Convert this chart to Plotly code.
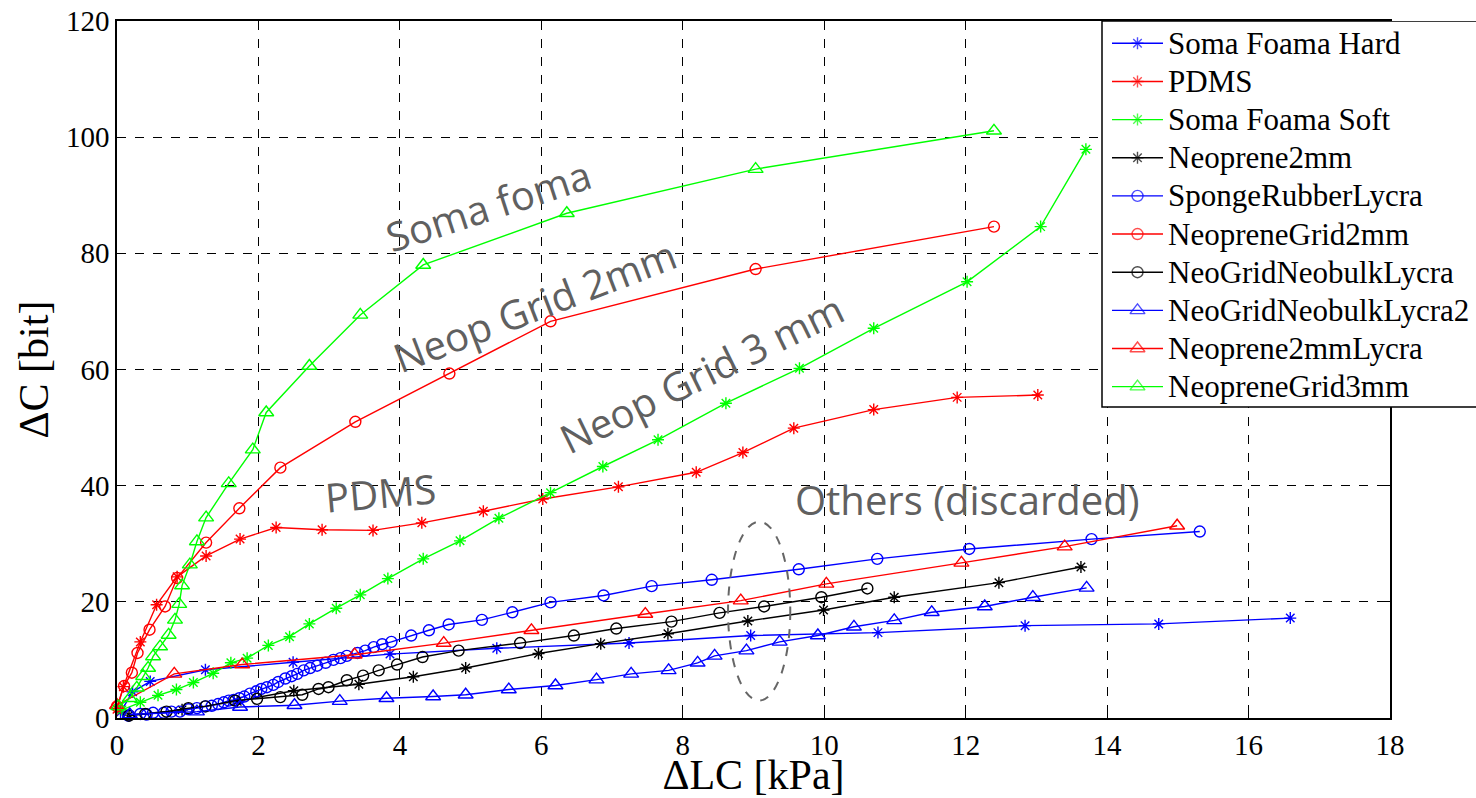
import plotly.graph_objects as go

# ---------------- data ----------------
soma_hard_x = [0.05, 0.22, 0.47, 1.25, 2.49, 3.86, 5.37, 7.24, 8.96, 10.76, 12.84, 14.73, 16.59]
soma_hard_y = [1.0, 4.5, 6.3, 8.3, 9.6, 11.0, 12.0, 12.9, 14.2, 14.7, 15.9, 16.2, 17.2]

pdms_x = [0.0, 0.09, 0.33, 0.56, 0.85, 1.26, 1.74, 2.25, 2.90, 3.62, 4.31, 5.18, 6.02, 7.09,
          8.19, 8.85, 9.57, 10.70, 11.88, 13.02]
pdms_y = [1.5, 5.4, 13.1, 19.5, 24.3, 27.9, 30.8, 32.8, 32.4, 32.3, 33.6, 35.6, 37.7, 39.8,
          42.3, 45.7, 49.9, 53.1, 55.2, 55.6]

soma_soft_x = [0.07, 0.33, 0.58, 0.84, 1.08, 1.36, 1.61, 1.84, 2.14, 2.44, 2.72, 3.10, 3.44,
               3.83, 4.33, 4.85, 5.40, 6.13, 6.87, 7.65, 8.61, 9.65, 10.70, 12.02, 13.06, 13.70]
soma_soft_y = [1.4, 2.7, 3.9, 4.9, 6.1, 7.7, 9.5, 10.3, 12.5, 14.0, 16.2, 18.9, 21.2,
               24.0, 27.4, 30.5, 34.4, 38.8, 43.3, 47.9, 54.2, 60.2, 67.1, 75.1, 84.6, 97.9]

neo2_x = [0.17, 0.92, 1.70, 2.50, 3.42, 4.19, 4.93, 5.96, 6.84, 7.79, 8.92, 9.99, 10.99, 12.47, 13.63]
neo2_y = [0.5, 1.4, 2.9, 4.7, 5.8, 7.1, 8.6, 11.1, 12.8, 14.5, 16.7, 18.6, 20.8, 23.3, 26.0]

sponge_x = [0.16, 0.33, 0.42, 0.51, 0.66, 0.77, 0.89, 1.01, 1.13, 1.25, 1.34, 1.43, 1.51, 1.58,
            1.65, 1.73, 1.80, 1.88, 1.97, 2.04, 2.12, 2.21, 2.28, 2.38, 2.47, 2.55, 2.64, 2.73,
            2.83, 2.95, 3.06, 3.16, 3.25, 3.40, 3.51, 3.63, 3.75, 3.88, 4.16, 4.41, 4.69, 5.16,
            5.59, 6.13, 6.88, 7.56, 8.41, 9.64, 10.75, 12.05, 13.78, 15.31]
sponge_y = [0.4, 0.7, 0.6, 0.9, 0.9, 1.1, 1.1, 1.5, 1.7, 2.0, 2.1, 2.4, 2.7, 3.0,
            3.1, 3.4, 3.7, 4.2, 4.6, 5.0, 5.3, 5.7, 6.2, 6.8, 7.2, 7.6, 8.2, 8.6,
            9.0, 9.5, 10.0, 10.3, 10.7, 11.2, 11.6, 12.2, 12.7, 13.1, 14.2, 15.1, 16.1, 16.9,
            18.2, 19.9, 21.1, 22.7, 23.8, 25.6, 27.4, 29.1, 30.8, 32.1]

neogrid2_x = [0.0, 0.10, 0.21, 0.29, 0.46, 0.68, 0.85, 1.26, 1.73, 2.31, 3.37, 4.70, 6.13, 9.03, 12.40]
neogrid2_y = [2.0, 5.5, 7.8, 11.2, 15.2, 19.2, 24.1, 30.2, 36.1, 43.1, 51.0, 59.3, 68.3, 77.3, 84.6]

ngnb_x = [0.17, 0.40, 0.70, 1.01, 1.25, 1.67, 1.98, 2.31, 2.62, 2.85, 2.99, 3.25, 3.48, 3.70,
          3.96, 4.32, 4.83, 5.70, 6.46, 7.06, 7.84, 8.52, 9.15, 9.96, 10.61]
ngnb_y = [0.4, 0.7, 1.1, 1.7, 2.0, 3.0, 3.3, 3.6, 4.0, 5.0, 5.3, 6.5, 7.3, 8.2,
          9.2, 10.5, 11.6, 12.9, 14.2, 15.4, 16.6, 18.1, 19.2, 20.8, 22.3]

ngnb2_x = [0.18, 1.13, 1.74, 2.51, 3.15, 3.81, 4.47, 4.93, 5.54, 6.20, 6.78, 7.27, 7.80, 8.21,
           8.45, 8.90, 9.37, 9.91, 10.42, 10.99, 11.52, 12.27, 12.95, 13.71]
ngnb2_y = [0.6, 1.1, 1.9, 2.2, 2.9, 3.4, 3.7, 4.0, 4.9, 5.6, 6.6, 7.6, 8.2, 9.5,
           10.7, 11.6, 13.1, 14.2, 15.7, 16.8, 18.2, 19.2, 20.8, 22.4]

neo2ly_x = [0.0, 0.81, 1.77, 3.36, 4.62, 5.86, 7.47, 8.82, 10.03, 11.94, 13.40, 14.99]
neo2ly_y = [2.2, 7.6, 9.2, 10.9, 12.9, 15.1, 17.9, 20.2, 23.1, 26.7, 29.5, 33.1]

neogrid3_x = [0.02, 0.18, 0.28, 0.37, 0.44, 0.51, 0.61, 0.73, 0.82, 0.88, 0.92, 1.03, 1.13,
              1.26, 1.58, 1.92, 2.11, 2.72, 3.44, 4.33, 6.36, 9.03, 12.40]
neogrid3_y = [2.0, 3.4, 5.2, 7.2, 8.6, 10.6, 12.3, 14.3, 16.9, 19.6, 22.8, 26.4, 30.4,
              34.5, 40.4, 46.2, 52.6, 60.6, 69.4, 78.0, 86.9, 94.5, 101.1]

series_names = ["Soma Foama Hard", "PDMS", "Soma Foama Soft", "Neoprene2mm",
                "SpongeRubberLycra", "NeopreneGrid2mm", "NeoGridNeobulkLycra",
                "NeoGridNeobulkLycra2", "Neoprene2mmLycra", "NeopreneGrid3mm"]

x_ticks = [0, 2, 4, 6, 8, 10, 12, 14, 16, 18]
y_ticks = [0, 20, 40, 60, 80, 100, 120]

# ---------------- layout constants (pixels) ----------------
W, H = 1476, 798
L, T, B = 117, 21, 80
PLOT_RIGHT = 1390           # right edge of the data area
PLOT_BOTTOM = H - B

BLUE, RED, GREEN, BLACK = "#0000ff", "#ff0000", "#00ff00", "#000000"
styles = [
    (BLUE, "asterisk-open", 10),
    (RED, "asterisk-open", 10),
    (GREEN, "asterisk-open", 10),
    (BLACK, "asterisk-open", 10),
    (BLUE, "circle-open", 11),
    (RED, "circle-open", 11),
    (BLACK, "circle-open", 11),
    (BLUE, "triangle-up-open", 13),
    (RED, "triangle-up-open", 13),
    (GREEN, "triangle-up-open", 13),
]
data = [
    (soma_hard_x, soma_hard_y), (pdms_x, pdms_y), (soma_soft_x, soma_soft_y),
    (neo2_x, neo2_y), (sponge_x, sponge_y), (neogrid2_x, neogrid2_y),
    (ngnb_x, ngnb_y), (ngnb2_x, ngnb2_y), (neo2ly_x, neo2ly_y), (neogrid3_x, neogrid3_y),
]

fig = go.Figure()
for name, (xs, ys), (col, sym, sz) in zip(series_names, data, styles):
    fig.add_trace(go.Scatter(
        x=xs, y=ys, name=name, mode="lines+markers",
        line=dict(color=col, width=1.4),
        marker=dict(symbol=sym, size=sz, color=col, line=dict(color=col, width=1.4)),
        cliponaxis=False, showlegend=False,
    ))

# ---------------- custom legend on a pixel-space overlay subplot ----------------
LEG_L, LEG_T, LEG_B = 1102, 21, 407
LEG_Y0, LEG_DY = 43.3, 38.15
SYM_X0, SYM_X1 = 1112, 1163
TEXT_X = 1166

fig.add_trace(go.Scatter(
    x=[LEG_L, W + 10, W + 10, LEG_L, LEG_L], y=[LEG_T, LEG_T, LEG_B, LEG_B, LEG_T],
    xaxis="x2", yaxis="y2", mode="lines", fill="toself", fillcolor="white",
    line=dict(color="black", width=1.5), showlegend=False, hoverinfo="skip",
))
for i, (name, (col, sym, sz)) in enumerate(zip(series_names, styles)):
    yc = LEG_Y0 + i * LEG_DY
    fig.add_trace(go.Scatter(
        x=[SYM_X0, (SYM_X0 + SYM_X1) / 2, SYM_X1], y=[yc, yc, yc],
        xaxis="x2", yaxis="y2", mode="lines+markers",
        line=dict(color=col, width=1.4),
        marker=dict(symbol=sym, size=[0, sz, 0], color=col, line=dict(color=col, width=1.4)),
        showlegend=False, hoverinfo="skip", cliponaxis=False,
    ))
    fig.add_annotation(xref="x2", yref="y2", x=TEXT_X, y=yc, text=name, showarrow=False,
                       xanchor="left", yanchor="middle",
                       font=dict(family="Liberation Serif", size=31, color="black"))

# ---------------- text annotations & ellipse ----------------
anno_font = dict(family="Open Sans", size=40, color="#606060")
annotations = [
    dict(text="Soma foma", x=5.24, y=88.3, textangle=-18),
    dict(text="Neop Grid 2mm", x=5.91, y=71.1, textangle=-21),
    dict(text="Neop Grid 3 mm", x=8.26, y=59.3, textangle=-26),
    dict(text="PDMS", x=3.73, y=38.9, textangle=-5),
    dict(text="Others (discarded)", x=12.03, y=37.6, textangle=0),
]
for a in annotations:
    fig.add_annotation(xref="x", yref="y", showarrow=False, font=anno_font, **a)

fig.add_shape(type="circle", xref="x", yref="y", x0=8.64, x1=9.52, y0=3.0, y1=33.8,
              line=dict(color="#666666", width=2, dash="dash"))

axis_common = dict(
    showline=True, linecolor="black", linewidth=1.5, mirror="ticks",
    ticks="inside", ticklen=8, tickcolor="black", tickwidth=1,
    showgrid=True, gridcolor="black", gridwidth=1, griddash="dash",
    zeroline=False, automargin=False,
    tickfont=dict(family="Liberation Serif", size=29, color="black"),
)

fig.update_layout(
    width=W, height=H,
    margin=dict(l=L, r=0, t=T, b=B),
    paper_bgcolor="white", plot_bgcolor="rgba(0,0,0,0)",
    showlegend=False,
    xaxis=dict(domain=[0, (PLOT_RIGHT - L) / (W - L)], range=[0, 18], tickvals=x_ticks,
               ticktext=[str(v) for v in x_ticks], anchor="y",
               title=dict(text="ΔLC [kPa]",
                          font=dict(family="Liberation Serif", size=42, color="black"),
                          standoff=7),
               **axis_common),
    yaxis=dict(domain=[0, 1], range=[0, 120], tickvals=y_ticks,
               ticktext=[str(v) for v in y_ticks], anchor="x",
               title=dict(text="ΔC [bit]",
                          font=dict(family="Liberation Serif", size=42, color="black"),
                          standoff=4),
               **axis_common),
    xaxis2=dict(domain=[0, 1], range=[L, W], visible=False, anchor="y2", fixedrange=True),
    yaxis2=dict(domain=[0, 1], range=[PLOT_BOTTOM, T], visible=False, anchor="x2", fixedrange=True),
)

fig.write_html("out.html")
